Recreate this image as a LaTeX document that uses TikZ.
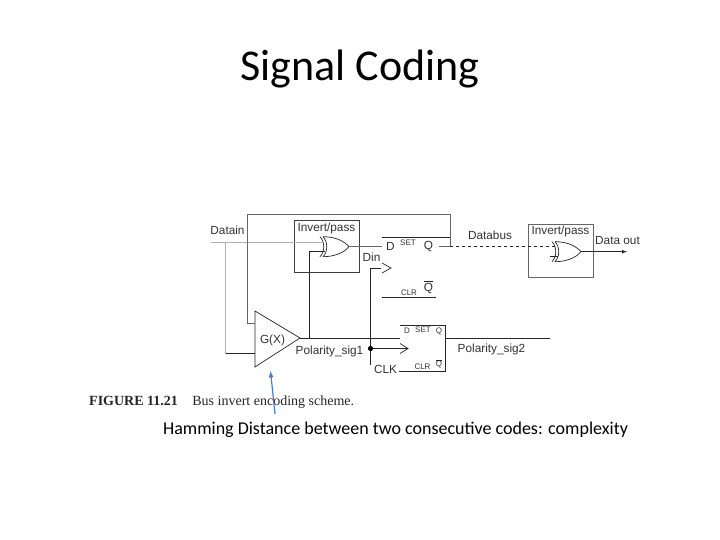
\documentclass[tikz,border=0pt]{standalone}
\usepackage{fontspec}
\setmainfont{Carlito}
\newfontfamily\arialfont{Liberation Sans}
\newfontfamily\timesfont{Liberation Serif}
\usetikzlibrary{positioning}
\definecolor{pointerblue}{HTML}{4A7EBB}
\tikzset{
 wire/.style={black!85,line width=0.7pt},
 softwire/.style={black!30,line width=0.6pt},
 boxwire/.style={black!60,line width=0.9pt},
 lbl/.style={inner sep=0pt,text=black!80,font=\arialfont\fontsize{11.8}{14}\selectfont},
 tiny lbl/.style={inner sep=0pt,text=black!80,font=\arialfont\fontsize{8}{10}\selectfont},
 slide text/.style={inner sep=0pt,text=black},
 pics/xorgate/.style={code={
  \draw[wire] (0,-10) .. controls (10,-10) and (20,-7) .. (26,0) .. controls (20,7) and (10,10) .. (0,10);
  \draw[wire] (0,-10) .. controls (5,-5) and (5,5) .. (0,10);
  \draw[wire] (-3,-10) .. controls (2,-5) and (2,5) .. (-3,10);
 }}
}
\begin{document}
\begin{tikzpicture}[x=1pt,y=-1pt]
 \useasboundingbox[fill=white] (0,0) rectangle (720,540);
 % slide text
 \node[slide text,font=\fontsize{44}{50}\selectfont] (title) at (360,69) {Signal Coding};
 \node[slide text,font=\fontsize{18}{22}\selectfont] (note) at (395.5,430) {Hamming Distance between two consecutive codes: complexity};
 \node[inner sep=0pt,text=black!85,anchor=west,font=\timesfont\fontsize{14}{16}\selectfont] (fig) at (89,402.5) {\textbf{FIGURE 11.21}\hspace{11pt} Bus invert encoding scheme.};
 % boxes
 \draw[black!75,line width=0.8pt] (294.5,220) rectangle (359.5,272.5);
 \draw[boxwire] (528,224) rectangle (593,277);
 \node[lbl] (inv1) at (326.5,228) {Invert/pass};
 \node[lbl] (inv2) at (560.5,231.5) {Invert/pass};
 % gates
 \pic (xa) at (323,246.7) {xorgate};
 \pic (xb) at (555,251.7) {xorgate};
 \draw[wire,fill=white] (255,311)--(300,338)--(255,367)--cycle;
 \node[lbl] (gx) at (272.5,340) {G(X)};
 % named points
 \coordinate (din) at (211,242);
 \coordinate (ingate) at (324,242);
 \coordinate (tap) at (225.7,242);
 \coordinate (gin) at (255,353.7);
 \coordinate (gback) at (255,323);
 \coordinate (qa) at (450,246.7);
 \coordinate (qb) at (556,246.7);
 \coordinate (ffa) at (382,246.7);
 \coordinate (dot) at (370.5,348.5);
 \coordinate (tip) at (300,338);
 \coordinate (dq) at (400,338);
 % wires
 \draw[softwire] (din)--(ingate);
 \draw[softwire] (tap)--(tap|-gin);
 \draw[wire] (tap|-gin)--(gin);
 \draw[boxwire] (gback)--(247.7,323)--(247.7,214.5)--(450,214.5)--(qa)--(439,246.7);
 \draw[wire] (309.3,338)--(309.3,251)--(325,251);
 \draw[boxwire] (349,246.7)--(ffa);
 \draw[wire] (tip)--(dq);
 \draw[wire] (446,338)--(550,338);
 \draw[wire,dashed] (qa)--(qb);
 \draw[wire] (550,256)--(558,256);
 \draw[wire,-latex] (581,251.7)--(627,251.7);
 % first flip-flop
 \draw[wire] (382,237.3)--(450,237.3);
 \draw[wire] (382,297)--(436,297);
 \draw[wire] (381,268) -- (370.5,268) -- (370.5,365);
 \draw[wire] (382,263)--(391,268)--(382,273);
 % second flip-flop
 \draw[wire] (400,325)--(445.5,325)--(445.5,371.3)--(399,371.3);
 \draw[wire] (dot)--(408,348.5);
 \draw[wire] (400,343.5)--(408,348.5)--(400,353.5);
 \fill[black] (dot) circle (2.6);
 % labels
 \node[lbl] (datain) at (227.5,230.5) {Datain};
 \node[lbl] (dinl) at (371.5,257) {Din};
 \node[lbl] (databus) at (490,235.5) {Databus};
 \node[lbl] (dataout) at (617.5,240.5) {Data out};
 \node[lbl] (pol1) at (329.5,351) {Polarity\_sig1};
 \node[lbl] (pol2) at (491.5,349) {Polarity\_sig2};
 \node[lbl] (clk) at (385.5,369.5) {CLK};
 \node[lbl] (da) at (390.5,246) {D};
 \node[tiny lbl] (seta) at (408,243) {SET};
 \node[lbl] (qal) at (428.5,246.5) {Q};
 \node[tiny lbl] (clra) at (409,292.5) {CLR};
 \node[lbl] (qbl) at (428.5,288.5) {Q};
 \draw[wire] (424,281)--(433,281);
 \node[tiny lbl] (db) at (407,331) {D};
 \node[tiny lbl] (setb) at (423,329.5) {SET};
 \node[tiny lbl] (qc) at (439,331) {Q};
 \node[tiny lbl] (clrb) at (422.5,366.5) {CLR};
 \node[tiny lbl] (qd) at (439,364.5) {Q};
 \draw[wire] (436,360.5)--(442,360.5);
 % pointer
 \coordinate (ptra) at (275,414);
 \coordinate (ptrb) at (270.5,371);
 \draw[-latex,line width=1.2pt,color=pointerblue] (ptra)--(ptrb);
\end{tikzpicture}
\end{document}
